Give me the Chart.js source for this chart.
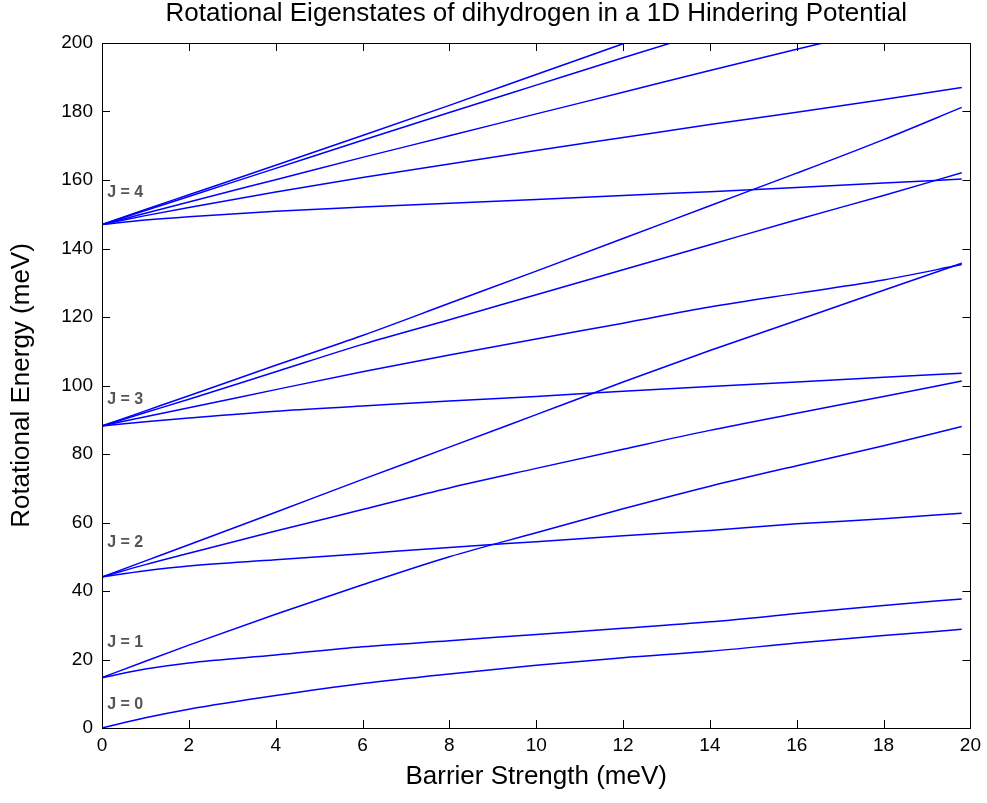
<!DOCTYPE html>
<html lang="en">
<head>
    <meta charset="UTF-8">
    <title>Rotational Eigenstates of dihydrogen</title>
    <script src="https://cdn.jsdelivr.net/npm/chart.js"></script>
    <style>
        body {
            margin: 0;
            background-color: #ffffff;
        }
        .chart-container {
            width: 987px;
            height: 803px;
        }
    </style>
</head>
<body>
    <div class="chart-container">
        <canvas id="levelsChart" width="987" height="803"></canvas>
    </div>

    <script>
        // barrier strength (meV) where each curve was read
        const barrier = [0, 1, 2, 4, 6, 8, 10, 12, 14, 16, 18, 19.8];

        // J = 0
        const j0a = [0, 3.0, 5.5, 9.5, 13.0, 15.8, 18.3, 20.5, 22.4, 24.8, 27.0, 28.8];
        // J = 1
        const j1a = [14.7, 17.2, 19.0, 21.3, 23.7, 25.5, 27.3, 29.1, 31.0, 33.4, 35.8, 37.7];
        const j1b = [14.7, 19.5, 24.2, 33.2, 41.8, 50.0, 57.0, 64.0, 70.6, 76.6, 82.4, 88.0];
        // J = 2
        const j2a = [44.1, 45.9, 47.3, 49.1, 50.9, 52.7, 54.4, 56.1, 57.7, 59.6, 61.1, 62.7];
        const j2b = [44.1, 47.7, 51.0, 57.5, 63.8, 70.1, 75.8, 81.4, 86.9, 91.9, 96.8, 101.3];
        const j2c = [44.1, 48.8, 53.5, 63.0, 72.6, 82.0, 91.5, 101.0, 110.2, 119.0, 127.8, 135.7];
        // J = 3
        const j3a = [88.2, 89.4, 90.5, 92.5, 94.0, 95.5, 96.8, 98.3, 99.7, 101.0, 102.4, 103.6];
        const j3b = [88.2, 90.9, 93.5, 98.8, 104.0, 108.9, 113.6, 118.2, 122.9, 126.9, 130.8, 135.3];
        const j3c = [88.2, 92.1, 96.0, 104.0, 112.0, 119.2, 126.5, 133.8, 141.1, 148.4, 155.5, 162.1];
        const j3d = [88.2, 92.6, 97.0, 105.9, 114.6, 124.0, 133.4, 142.9, 152.5, 162.0, 171.8, 181.2];
        // J = 4
        const j4a = [147.0, 148.3, 149.3, 150.9, 152.1, 153.2, 154.3, 155.5, 156.6, 157.8, 159.1, 160.3];
        const j4b = [147.0, 149.6, 152.0, 156.5, 160.7, 164.7, 168.6, 172.4, 176.2, 179.8, 183.5, 187.0];
        const j4c = [147.0, 150.3, 153.6, 160.1, 166.6, 172.9, 179.3, 185.6, 192.0, 198.2, 204.2, 209.5];
        const j4d = [147.0, 151.1, 155.2, 163.4, 171.6, 179.7, 187.7, 195.7, 203.5, 211.0, 218.5, 225.0];
        const j4e = [147.0, 151.4, 155.7, 164.3, 173.0, 181.8, 190.8, 199.8, 208.8, 217.8, 226.8, 234.8];

        const curves = [j0a, j1a, j1b, j2a, j2b, j2c, j3a, j3b, j3c, j3d, j4a, j4b, j4c, j4d, j4e];

        // level labels and where they sit (data units)
        const levelNames = ['J = 0', 'J = 1', 'J = 2', 'J = 3', 'J = 4'];
        const levelLabelY = [6.7, 24.8, 54.0, 95.8, 156.2];

        const xTicks = [0, 2, 4, 6, 8, 10, 12, 14, 16, 18, 20];
        const yTicks = [0, 20, 40, 60, 80, 100, 120, 140, 160, 180, 200];

        const chartTitle = 'Rotational Eigenstates of dihydrogen in a 1D Hindering Potential';
        const fontFamily = '"Liberation Sans", Arial, sans-serif';

        // box round the axes with inward ticks on every side, the title over the axes, and the J labels
        const matlabAxes = {
            id: 'matlabAxes',
            afterDatasetsDraw(chart) {
                const { ctx, chartArea: a, scales } = chart;
                const tl = 8;
                ctx.save();
                ctx.strokeStyle = '#000';
                ctx.lineWidth = 1;
                ctx.beginPath();
                xTicks.forEach(v => {
                    const px = Math.round(scales.x.getPixelForValue(v)) + 0.5;
                    ctx.moveTo(px, a.bottom); ctx.lineTo(px, a.bottom - tl);
                    ctx.moveTo(px, a.top); ctx.lineTo(px, a.top + tl);
                });
                yTicks.forEach(v => {
                    const py = Math.round(scales.y.getPixelForValue(v)) + 0.5;
                    ctx.moveTo(a.left, py); ctx.lineTo(a.left + tl, py);
                    ctx.moveTo(a.right, py); ctx.lineTo(a.right - tl, py);
                });
                ctx.stroke();
                ctx.strokeRect(Math.round(a.left) + 0.5, Math.round(a.top) + 0.5,
                    Math.round(a.right - a.left), Math.round(a.bottom - a.top));

                ctx.fillStyle = '#000';
                ctx.font = '26px ' + fontFamily;
                ctx.textAlign = 'center';
                ctx.textBaseline = 'middle';
                ctx.fillText(chartTitle, (a.left + a.right) / 2, 14);

                ctx.fillStyle = '#555';
                ctx.font = 'bold 16px ' + fontFamily;
                ctx.textAlign = 'left';
                levelNames.forEach((name, i) => {
                    ctx.fillText(name, scales.x.getPixelForValue(0.12), scales.y.getPixelForValue(levelLabelY[i]));
                });
                ctx.restore();
            }
        };

        const ctx = document.getElementById('levelsChart').getContext('2d');
        new Chart(ctx, {
            type: 'line',
            data: {
                datasets: curves.map(c => ({
                    data: barrier.map((b, i) => ({ x: b, y: c[i] })),
                    borderColor: '#0000ff',
                    borderWidth: 1.5,
                    pointRadius: 0,
                    fill: false,
                    cubicInterpolationMode: 'monotone',
                    clip: 0
                }))
            },
            options: {
                responsive: false,
                animation: false,
                layout: { padding: { top: 43, right: 16, left: 0, bottom: 0 } },
                plugins: {
                    legend: { display: false },
                    tooltip: { enabled: false },
                    title: { display: false }
                },
                scales: {
                    x: {
                        type: 'linear',
                        min: 0,
                        max: 20,
                        grid: { display: false, drawTicks: false },
                        border: { display: false },
                        afterBuildTicks: s => { s.ticks = xTicks.map(v => ({ value: v })); },
                        afterFit: s => { s.height = 75; },
                        ticks: {
                            color: '#000',
                            padding: 6,
                            maxRotation: 0,
                            font: { family: fontFamily, size: 19 }
                        },
                        title: {
                            display: true,
                            text: 'Barrier Strength (meV)',
                            color: '#000',
                            font: { family: fontFamily, size: 26 },
                            padding: { top: 0, bottom: 11 }
                        }
                    },
                    y: {
                        min: 0,
                        max: 200,
                        grid: { display: false, drawTicks: false },
                        border: { display: false },
                        afterBuildTicks: s => { s.ticks = yTicks.map(v => ({ value: v })); },
                        afterFit: s => { s.width = 102; },
                        ticks: {
                            color: '#000',
                            padding: 9,
                            font: { family: fontFamily, size: 19 }
                        },
                        title: {
                            display: true,
                            text: 'Rotational Energy (meV)',
                            color: '#000',
                            font: { family: fontFamily, size: 26 },
                            padding: { top: 6, bottom: 0 }
                        }
                    }
                }
            },
            plugins: [matlabAxes]
        });
    </script>
</body>
</html>
